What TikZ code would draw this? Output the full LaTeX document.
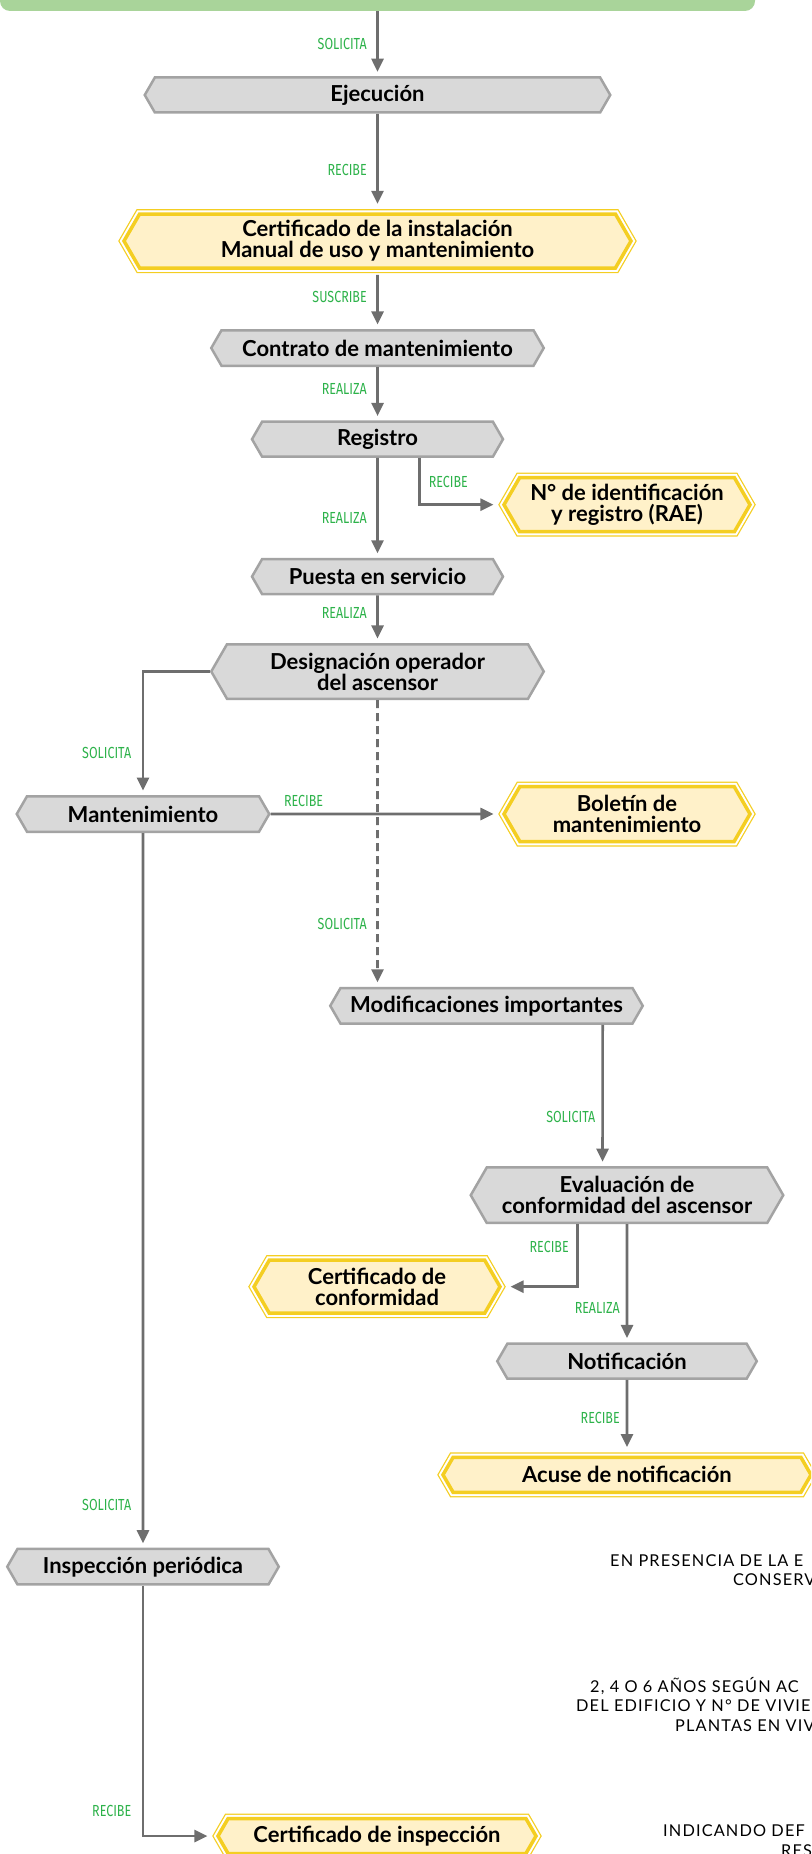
\documentclass[tikz,border=0pt]{standalone}
\usepackage{fontspec}
\setmainfont{Lato}
\newfontfamily\lblfont{Fira Sans}[FakeStretch=0.78]
\newfontfamily\notefont{Lato}[LetterSpace=7]
\usetikzlibrary{shapes.symbols, arrows.meta, positioning}
\definecolor{boxgray}{HTML}{D9D9D9}
\definecolor{linegray}{HTML}{A3A3A3}
\definecolor{arrowgray}{HTML}{6E6E6E}
\definecolor{docfill}{HTML}{FFF1C9}
\definecolor{docgold}{HTML}{F4CE22}
\definecolor{lblgreen}{HTML}{2DB24A}
\definecolor{barcolor}{HTML}{A9D49A}
\newcommand{\boxfont}{\fontsize{22}{21}\selectfont\bfseries}
\tikzset{
  proc/.style  = {signal, signal to=west and east, signal pointer angle=120,
                  draw=linegray, fill=boxgray, line width=2.5pt, inner sep=0pt,
                  align=center, font=\boxfont},
  doc/.style   = {signal, signal to=west and east, signal pointer angle=120,
                  draw=docgold, fill=docfill, line width=3.5pt, inner sep=0pt,
                  preaction={draw=docgold, line width=10pt},
                  preaction={draw=white, line width=7.5pt},
                  align=center, font=\boxfont},
  arr/.style   = {-{Triangle[length=13pt,width=12pt]}, draw=arrowgray,
                  line width=2.6pt, shorten >=4.5pt},
  todoc/.style = {shorten >=8.5pt},
  fromdoc/.style = {shorten <=5pt},
  lbl/.style   = {font=\lblfont\fontsize{16}{16}\selectfont, text=lblgreen, inner sep=0pt},
  note/.style  = {font=\notefont\fontsize{16.3}{19}\selectfont, inner sep=0pt, anchor=base west},
}

\begin{document}
\begin{tikzpicture}[x=1pt, y=-1pt]
  \useasboundingbox (0,0) rectangle (811,1854);
  \clip (0,0) rectangle (811,1854);

  % Top bar
  \node[fill=barcolor, rounded corners=10pt, minimum width=755pt,
        minimum height=51pt, inner sep=0pt] (bar) at (377.5,-14.5) {};

  % Main column
  \node[proc, minimum width=465.5pt, minimum height=35pt] (ejec) at (377.5,95) {Ejecución};
  \node[doc, minimum width=507pt, minimum height=54pt] (cinst) at (377.5,241)
        {Certificado de la instalación\\Manual de uso y mantenimiento};
  \node[proc, minimum width=332.5pt, minimum height=35.5pt] (contr) at (377.5,348) {Contrato de mantenimiento};
  \node[proc, minimum width=251pt, minimum height=35pt] (reg) at (377.5,439.2) {Registro};
  \node[doc, minimum width=246pt, minimum height=54pt] (rae) at (627,504.7)
        {N° de identificación\\y registro (RAE)};
  \node[proc, minimum width=251pt, minimum height=35pt] (puesta) at (377.5,576.6) {Puesta en servicio};
  \node[proc, minimum width=332.5pt, minimum height=54.5pt] (desig) at (377.5,671.5)
        {Designación operador\\del ascensor};

  % Maintenance branch
  \node[proc, minimum width=252.5pt, minimum height=35.5pt] (mant) at (143,814) {Mantenimiento};
  \node[doc, minimum width=246pt, minimum height=55pt] (bol) at (627,814)
        {Boletín de\\mantenimiento};

  % Modifications branch
  \node[proc, minimum width=312.5pt, minimum height=35.5pt] (modif) at (486.5,1005.8) {Modificaciones importantes};
  \node[proc, minimum width=312.5pt, minimum height=55.5pt] (eval) at (627,1195.2)
        {Evaluación de\\conformidad del ascensor};
  \node[doc, minimum width=246pt, minimum height=53pt] (cconf) at (377,1286.7)
        {Certificado de\\conformidad};
  \node[proc, minimum width=259.5pt, minimum height=35pt] (notif) at (627,1361.2) {Notificación};
  \node[doc, minimum width=368pt, minimum height=35pt] (acuse) at (627,1474.8) {Acuse de notificación};

  % Periodic inspection
  \node[proc, minimum width=271.5pt, minimum height=35.5pt] (insp) at (143,1566.7) {Inspección periódica};
  \node[doc, minimum width=318pt, minimum height=35pt] (cinsp) at (377,1836) {Certificado de inspección};

  % Notes
  \node[note] (pres1) at (610,1566.7) {EN PRESENCIA DE LA E};
  \node[note] (pres2) at (733,1585.7) {CONSERV};
  \node[note] (anos1) at (590,1692) {2, 4 O 6 AÑOS SEGÚN AC};
  \node[note] (anos2) at (576,1711.5) {DEL EDIFICIO Y N° DE VIVIE};
  \node[note] (anos3) at (675,1731) {PLANTAS EN VIV};
  \node[note] (ind1) at (663,1836) {INDICANDO DEF};
  \node[note] (ind2) at (781,1856) {RES};

  % Arrows
  \draw[arr] (bar) -- (ejec) node[lbl, midway, left=9.5pt] (l1) {SOLICITA};
  \draw[arr, todoc] (ejec) -- (cinst) node[lbl, pos=0.57, left=9.5pt] (l2) {RECIBE};
  \draw[arr, fromdoc] (cinst) -- (contr) node[lbl, pos=0.46, left=9.5pt] (l3) {SUSCRIBE};
  \draw[arr] (contr) -- (reg) node[lbl, pos=0.42, left=9.5pt] (l4) {REALIZA};
  \draw[arr, todoc] ([xshift=42pt]reg.south) |- (rae)
        node[lbl, pos=0.26, right=8pt] (l5) {RECIBE};
  \draw[arr] (reg) -- (puesta) node[lbl, pos=0.6, left=9.5pt] (l6) {REALIZA};
  \draw[arr] (puesta) -- (desig) node[lbl, pos=0.38, left=9.5pt] (l7) {REALIZA};
  \draw[arr] (desig.west) -| (mant) node[lbl, pos=0.83, left=10.5pt] (l8) {SOLICITA};
  \draw[arr, todoc] (mant) -- (bol) node[lbl, pos=0, above right=6pt and 12pt] (l9) {RECIBE};
  \draw[arr, dash pattern=on 8pt off 5pt] (desig) -- (desig.south |- modif.north)
        node[lbl, pos=0.78, left=9.5pt] (l10) {SOLICITA};
  \draw[arr] ([xshift=116.2pt]modif.south) -- ([xshift=-24.5pt]eval.north)
        node[lbl, pos=0.65, left=6pt] (l11) {SOLICITA};
  \draw[arr, todoc] ([xshift=-49.5pt]eval.south) |- (cconf)
        node[lbl, pos=0.18, left=7.5pt] (l12) {RECIBE};
  \draw[arr] (eval) -- (notif) node[lbl, pos=0.71, left=6pt] (l13) {REALIZA};
  \draw[arr, todoc] (notif) -- (acuse) node[lbl, midway, left=6pt] (l14) {RECIBE};
  \draw[arr] (mant) -- (insp) node[lbl, pos=0.94, left=10.5pt] (l15) {SOLICITA};
  \draw[arr, todoc] (insp) |- (cinsp) node[lbl, pos=0.45, left=10.5pt] (l16) {RECIBE};
\end{tikzpicture}
\end{document}
